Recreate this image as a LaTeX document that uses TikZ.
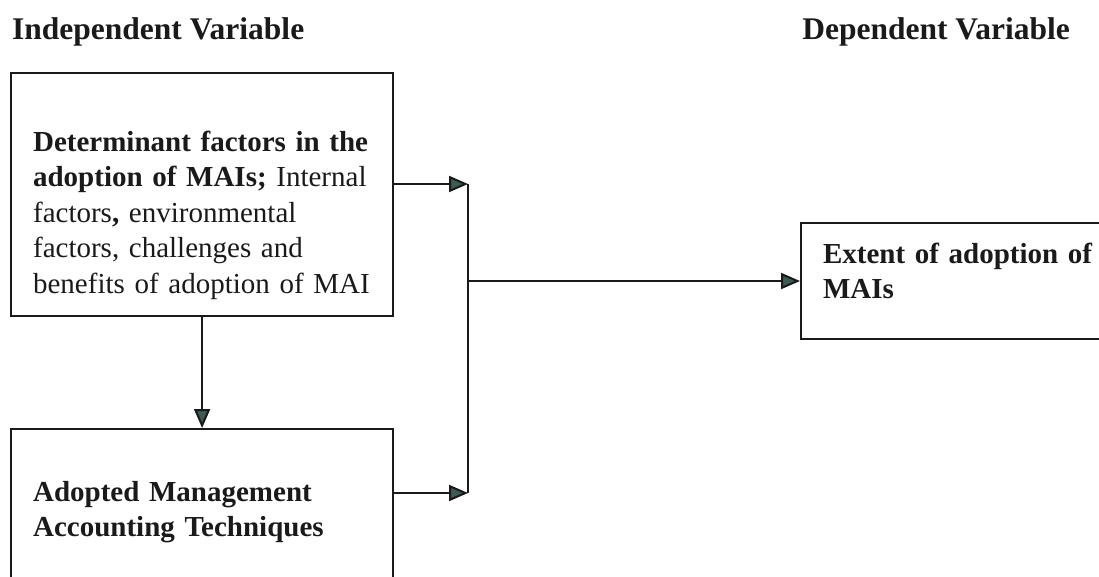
\documentclass[tikz,border=0pt]{standalone}
\usepackage{fontspec}
\setmainfont{Liberation Serif}
\usetikzlibrary{arrows.meta}
\definecolor{tipgreen}{HTML}{3D5A55}
\definecolor{ink}{HTML}{1A1A1A}

\begin{document}
\begin{tikzpicture}[x=1pt, y=-1pt,
    head/.style={inner sep=0pt, font=\fontsize{31.5}{36}\selectfont\bfseries, text=ink},
    varbox/.style={draw=ink, line width=2.2pt, inner xsep=22pt, inner ysep=0pt,
      align=left, font=\fontsize{29}{35.5}\selectfont, text=ink},
    link/.style={draw=ink, line width=2pt,
      -{Triangle[length=19pt, width=16pt, fill=tipgreen]}}]
  \useasboundingbox[fill=white] (0,0) rectangle (1099,576);
  \clip (0,0) rectangle (1099,576);
  \node[head, anchor=base west] (indep) at (12,39) {Independent Variable};
  \node[head, anchor=base east] (dep) at (1070,39) {Dependent Variable};
  \node[varbox, anchor=north west, text width=338pt, text height=78pt, text depth=165pt]
    (det) at (10,72) {\textbf{Determinant factors in the}\\
      \textbf{adoption of MAIs;} Internal\\
      factors\textbf{,} environmental\\
      factors, challenges and\\
      benefits of adoption of MAI};
  \node[varbox, anchor=north west, text width=338pt, text height=72pt, text depth=110pt]
    (adopted) at (10,428) {\textbf{Adopted Management}\\ \textbf{Accounting Techniques}};
  \node[varbox, anchor=north west, text width=300pt, text height=40pt, text depth=76pt]
    (extent) at (800,222) {\textbf{Extent of adoption of}\\ \textbf{MAIs}};
  \coordinate (jtop) at (468,184);
  \coordinate (jmid) at (468,281);
  \coordinate (jbot) at (468,493);
  \draw[link] (det.south) -- (adopted.north);
  \draw[link] (det.east |- jtop) -- (jtop);
  \draw[link] (adopted.east |- jbot) -- (jbot);
  \draw[draw=ink, line width=2pt] (jtop) -- (jbot);
  \draw[link] (jmid) -- (extent.west |- jmid);
\end{tikzpicture}
\end{document}
